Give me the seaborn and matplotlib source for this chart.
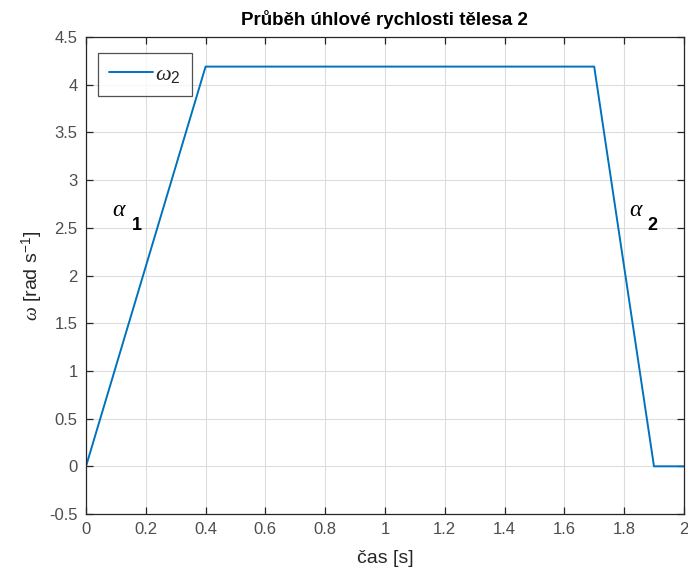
import matplotlib
matplotlib.use("Agg")
import matplotlib.pyplot as plt
import seaborn as sns
import pandas as pd

# Angular velocity profile of body 2: acceleration, constant speed, braking, rest
cas = [0.0, 0.4, 1.7, 1.9, 2.0]
omega2 = [0.0, 4.19, 4.19, 0.0, 0.0]

x_ticks = [0, 0.2, 0.4, 0.6, 0.8, 1, 1.2, 1.4, 1.6, 1.8, 2]
y_ticks = [-0.5, 0, 0.5, 1, 1.5, 2, 2.5, 3, 3.5, 4, 4.5]

df = pd.DataFrame({"cas": cas, "omega": omega2})

sns.set_style("ticks")
plt.rcParams["font.family"] = ["Liberation Sans", "DejaVu Sans"]
plt.rcParams["mathtext.fontset"] = "custom"
plt.rcParams["mathtext.it"] = "Liberation Serif:italic"
plt.rcParams["mathtext.rm"] = "Liberation Sans"

fig = plt.figure(figsize=(6.88, 5.74), dpi=100)
ax = fig.add_axes([0.125, 0.1045, 0.869, 0.831])

sns.lineplot(data=df, x="cas", y="omega", ax=ax, color="#0072BD",
             linewidth=1.4, label=r"$\omega_2$", sort=False)

ax.set_xlim(0, 2)
ax.set_ylim(-0.5, 4.5)
ax.set_xticks(x_ticks)
ax.set_xticklabels([f"{t:g}" for t in x_ticks])
ax.set_yticks(y_ticks)
ax.set_yticklabels([f"{t:g}" for t in y_ticks])
ax.grid(True, color="#dcdcdc", linewidth=0.8)
ax.set_axisbelow(True)

for s in ax.spines.values():
    s.set_visible(True)
    s.set_color("#262626")
    s.set_linewidth(0.9)

ax.tick_params(direction="in", length=5, width=0.9, top=True, right=True,
               labelsize=12, colors="#262626", pad=6)
for lab in ax.get_xticklabels() + ax.get_yticklabels():
    lab.set_color("#4d4d4d")

ax.set_xlabel("čas [s]", fontsize=14, color="#262626", labelpad=9)
ax.set_ylabel(r"$\omega$ [rad s$^{-1}$]", fontsize=14, color="#262626", labelpad=3)
ax.set_title("Průběh úhlové rychlosti tělesa 2", fontsize=13.5,
             fontweight="bold", color="black", pad=9)

ax.text(0.088, 2.62, r"$\alpha$", fontsize=17, color="black")
ax.text(0.152, 2.48, "1", fontsize=13, fontweight="bold", color="black")
ax.text(1.817, 2.62, r"$\alpha$", fontsize=17, color="black")
ax.text(1.879, 2.48, "2", fontsize=13, fontweight="bold", color="black")

leg = ax.legend(loc="upper left", bbox_to_anchor=(0.02, 0.966), fontsize=16,
                frameon=True, fancybox=False, handlelength=2.0,
                borderpad=0.48, handletextpad=0.1, borderaxespad=0)
leg.get_frame().set_edgecolor("#262626")
leg.get_frame().set_linewidth(0.9)

fig.savefig("out.png", dpi=100)
